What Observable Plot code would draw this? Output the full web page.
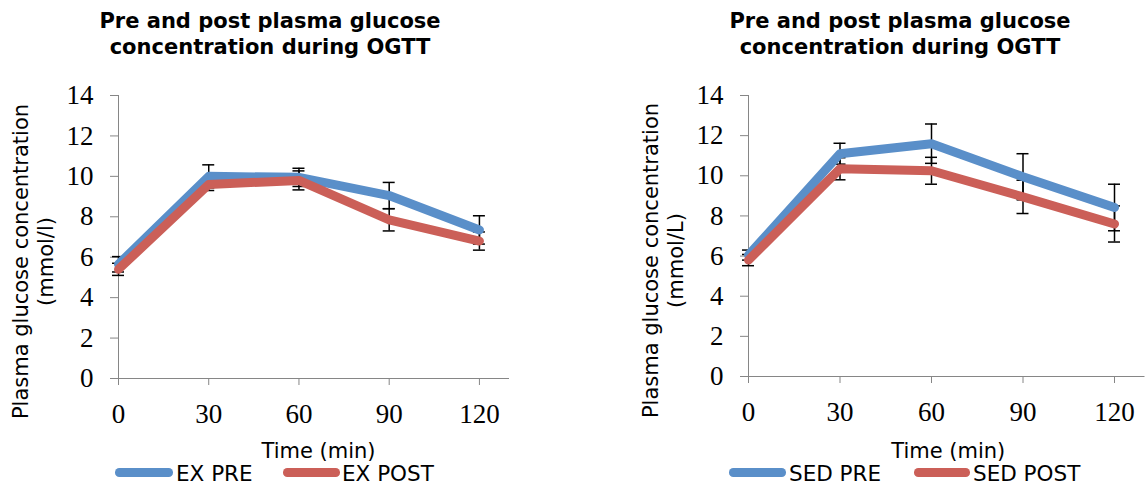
<!DOCTYPE html>
<html>
<head>
<meta charset="utf-8">
<script src="https://cdn.jsdelivr.net/npm/d3@7"></script>
<script src="https://cdn.jsdelivr.net/npm/@observablehq/plot@0.6"></script>
<style>
  body { margin: 0; background: #fff; }
  #wrap { position: relative; width: 1146px; height: 486px; overflow: hidden; background: #fff; }
  .title { position: absolute; top: 8px; width: 440px; text-align: center; font: bold 21px "DejaVu Sans"; line-height: 26px; color: #000; }
  .chart { position: absolute; top: 60px; }
  .sw { position: absolute; height: 8.5px; border-radius: 4.25px; top: 468px; }
  .lt { position: absolute; font: 21.5px "DejaVu Sans"; color: #000; top: 461.5px; line-height: 24px; white-space: nowrap; }
</style>
</head>
<body>
<div id="wrap"></div>
<script>
// ---- data ----
const times = [0, 30, 60, 90, 120];
const xTicks = [0, 30, 60, 90, 120];
const yTicks = [0, 2, 4, 6, 8, 10, 12, 14];

const exPre = [5.65, 10.0, 9.95, 9.05, 7.35];
const exPreErr = [0.38, 0.57, 0.45, 0.65, 0.7];
const exPost = [5.4, 9.6, 9.8, 7.85, 6.8];
const exPostErr = [0.3, 0.3, 0.47, 0.55, 0.45];

const sedPre = [6.05, 11.1, 11.6, 9.95, 8.42];
const sedPreErr = [0.25, 0.52, 0.98, 1.15, 1.16];
const sedPost = [5.8, 10.35, 10.25, 8.95, 7.6];
const sedPostErr = [0.28, 0.55, 0.67, 0.83, 0.9];

const titleText = "Pre and post plasma glucose\nconcentration during OGTT";
const xLabel = "Time (min)";
const seriesNames = { ex: ["EX PRE", "EX POST"], sed: ["SED PRE", "SED POST"] };
const BLUE = "#5a8fc9", RED = "#cb5f58", AXIS = "#868686";

const wrap = document.getElementById("wrap");

function panel(o) {
  const pre = times.map((t, i) => ({ t, v: o.pre[i], e: o.preErr[i] }));
  const post = times.map((t, i) => ({ t, v: o.post[i], e: o.postErr[i] }));
  const bars = pre.concat(post);
  const eb = { stroke: "#000", strokeWidth: 1.5 };
  const chart = Plot.plot({
    width: 573, height: 400,
    marginTop: 35, marginBottom: o.mb, marginLeft: o.ml, marginRight: o.mr,
    x: { domain: [0, 130] },
    y: { domain: [0, 14] },
    style: { fontFamily: "Liberation Serif", fontSize: "27px", color: "#000", background: "#fff", overflow: "visible" },
    marks: [
      Plot.axisY(yTicks, { tickSize: 8, tickPadding: 17, stroke: AXIS, fill: "#000", label: null }),
      Plot.axisX(xTicks, { tickSize: 7, tickPadding: 18, stroke: AXIS, fill: "#000", label: null }),
      Plot.ruleY([0], { stroke: AXIS }),
      Plot.ruleX([0], { stroke: AXIS }),
      Plot.ruleX(bars, { x: "t", y1: d => d.v - d.e, y2: d => d.v + d.e, ...eb }),
      Plot.ruleY(bars, { x1: "t", x2: "t", y: d => d.v + d.e, insetLeft: -6, insetRight: -6, ...eb }),
      Plot.ruleY(bars, { x1: "t", x2: "t", y: d => d.v - d.e, insetLeft: -6, insetRight: -6, ...eb }),
      Plot.line(pre, { x: "t", y: "v", stroke: BLUE, strokeWidth: 9, strokeLinecap: "round", strokeLinejoin: "round" }),
      Plot.line(post, { x: "t", y: "v", stroke: RED, strokeWidth: 9, strokeLinecap: "round", strokeLinejoin: "round" }),
      Plot.text([o.ylabel], { frameAnchor: "left", rotate: -90, textAnchor: "middle", lineAnchor: "middle",
        dx: -86, dy: 24.5, fontFamily: "DejaVu Sans", fontSize: 21, lineHeight: 1.19, fill: "#000" }),
      Plot.text([xLabel], { frameAnchor: "bottom", textAnchor: "middle", lineAnchor: "middle",
        dx: o.xlDx, dy: o.xlDy, fontFamily: "DejaVu Sans", fontSize: 21, fill: "#000" })
    ]
  });
  const c = document.createElement("div");
  c.className = "chart";
  c.style.left = o.left + "px";
  c.appendChild(chart);
  wrap.appendChild(c);

  const t = document.createElement("div");
  t.className = "title";
  t.style.left = (o.titleCx - 220) + "px";
  t.innerHTML = titleText.split("\n").join("<br>");
  wrap.appendChild(t);

  o.legend.forEach(([x1, x2, tx, col, name]) => {
    const s = document.createElement("div");
    s.className = "sw";
    s.style.left = x1 + "px"; s.style.width = (x2 - x1) + "px"; s.style.background = col;
    wrap.appendChild(s);
    const l = document.createElement("div");
    l.className = "lt"; l.style.left = tx + "px"; l.textContent = name;
    wrap.appendChild(l);
  });
}

panel({
  left: 0, ml: 118, mr: 64, mb: 82,
  pre: exPre, preErr: exPreErr, post: exPost, postErr: exPostErr,
  ylabel: "Plasma glucose concentration\n(mmol/l)",
  xlDx: 4.5, xlDy: 73, titleCx: 270,
  legend: [[115, 173, 176, BLUE, seriesNames.ex[0]], [283, 340, 342, RED, seriesNames.ex[1]]]
});
panel({
  left: 573, ml: 175, mr: 1.5, mb: 84,
  pre: sedPre, preErr: sedPreErr, post: sedPost, postErr: sedPostErr,
  ylabel: "Plasma glucose concentration\n(mmol/L)",
  xlDx: 1.5, xlDy: 75, titleCx: 900,
  legend: [[729, 786, 789, BLUE, seriesNames.sed[0]], [914, 970, 973, RED, seriesNames.sed[1]]]
});
</script>
</body>
</html>
